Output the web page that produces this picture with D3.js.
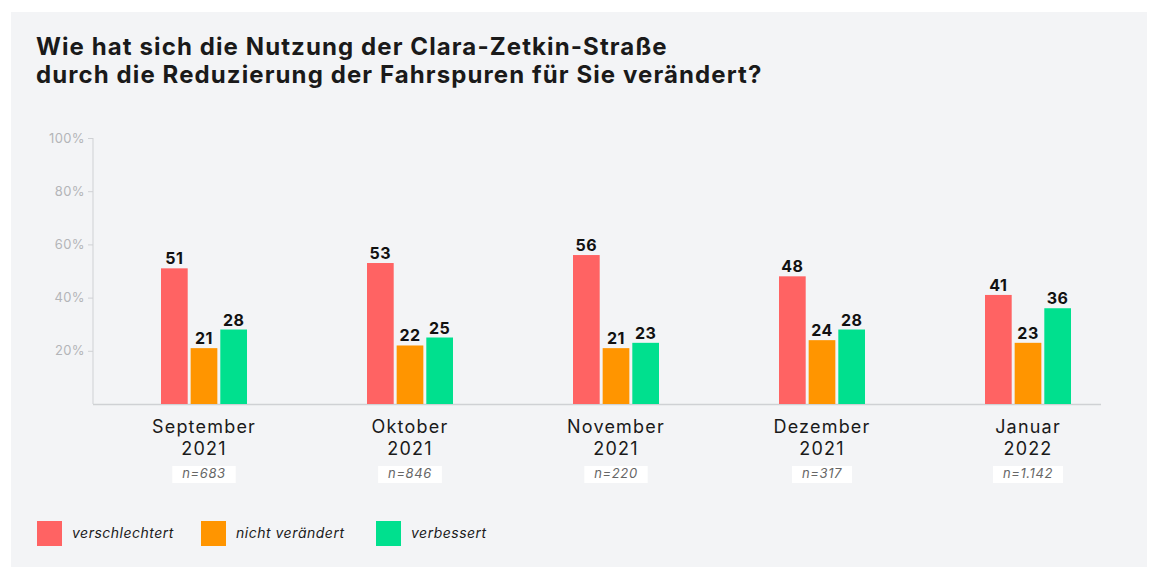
<!DOCTYPE html>
<html>
<head>
<meta charset="utf-8">
<script src="https://cdn.jsdelivr.net/npm/d3@7"></script>
<style>
  body { margin: 0; background: #fff; }
  svg { display: block; font-family: Inter, "Noto Sans", sans-serif; }
</style>
</head>
<body>
<svg id="chart"></svg>
<script>
const months = ["September", "Oktober", "November", "Dezember", "Januar"];
const years = ["2021", "2021", "2021", "2021", "2022"];
const samples = ["n=683", "n=846", "n=220", "n=317", "n=1.142"];
const seriesNames = ["verschlechtert", "nicht verändert", "verbessert"];
const seriesColors = ["#ff6363", "#ff9500", "#00e08e"];
const verschlechtert = [51, 53, 56, 48, 41];
const nichtVeraendert = [21, 22, 21, 24, 23];
const verbessert = [28, 25, 23, 28, 36];
const yTicks = [20, 40, 60, 80, 100];

const width = 1150;
const height = 567;
const svg = d3.select("#chart").attr("width", width).attr("height", height);

// panel
svg.append("rect")
  .attr("x", 11).attr("y", 12)
  .attr("width", 1136).attr("height", 555)
  .attr("fill", "#f3f4f6");

// title
const title = svg.append("text")
  .attr("x", 36).attr("y", 55)
  .attr("font-size", 24).attr("font-weight", 700)
  .attr("letter-spacing", 1.1)
  .attr("fill", "#1a1a1a");
title.append("tspan").attr("x", 36).text("Wie hat sich die Nutzung der Clara-Zetkin-Straße");
title.append("tspan").attr("x", 36).attr("dy", 28).text("durch die Reduzierung der Fahrspuren für Sie verändert?");

const yScale = d3.scaleLinear().domain([0, 100]).range([404, 138]);
const xScale = d3.scaleBand().domain(months).range([101, 1131]);
const xSub = d3.scaleBand().domain(seriesNames).range([-43, 43]).paddingInner(0.1);

// y axis
const yAxisG = svg.append("g")
  .attr("transform", "translate(93,0)")
  .call(d3.axisLeft(yScale).tickValues(yTicks).tickFormat((d) => d + "%").tickSize(5).tickPadding(3));
yAxisG.select(".domain").attr("stroke", "#cfd1d4").attr("d", "M0,138V404");
yAxisG.selectAll(".tick line").attr("stroke", "#cfd1d4");
yAxisG.selectAll(".tick text").attr("fill", "#b3b5b8").attr("font-size", 13)
  .attr("letter-spacing", 0.4).attr("font-family", "Inter, sans-serif");

// x baseline
svg.append("line")
  .attr("x1", 93).attr("x2", 1101)
  .attr("y1", yScale(0) + 0.5).attr("y2", yScale(0) + 0.5)
  .attr("stroke", "#cfd1d4").attr("stroke-width", 1.5);

// bars
const rows = months.map((m, i) => ({
  month: m,
  values: [verschlechtert[i], nichtVeraendert[i], verbessert[i]]
}));

const groups = svg.selectAll(".group").data(rows).join("g")
  .attr("class", "group")
  .attr("transform", (d) => `translate(${xScale(d.month) + xScale.bandwidth() / 2},0)`);

groups.selectAll("rect").data((d) => d.values.map((v, j) => ({ v, s: seriesNames[j], c: seriesColors[j] })))
  .join("rect")
  .attr("x", (d) => xSub(d.s))
  .attr("width", xSub.bandwidth())
  .attr("y", (d) => yScale(d.v))
  .attr("height", (d) => yScale(0) - yScale(d.v))
  .attr("fill", (d) => d.c);

groups.selectAll(".val").data((d) => d.values.map((v, j) => ({ v, s: seriesNames[j] })))
  .join("text")
  .attr("class", "val")
  .attr("x", (d) => xSub(d.s) + xSub.bandwidth() / 2)
  .attr("y", (d) => yScale(d.v) - 4)
  .attr("text-anchor", "middle")
  .attr("font-size", 16).attr("font-weight", 700)
  .attr("letter-spacing", 0.5)
  .attr("fill", "#111")
  .text((d) => d.v);

// x labels
groups.append("text")
  .attr("y", 433).attr("text-anchor", "middle")
  .attr("font-size", 18).attr("letter-spacing", 1.2).attr("fill", "#1a1a1a")
  .text((d) => d.month);
groups.append("text")
  .attr("y", 455).attr("text-anchor", "middle")
  .attr("font-size", 18).attr("letter-spacing", 1.2).attr("fill", "#1a1a1a")
  .text((d, i) => years[i]);

groups.each(function (d, i) {
  const g = d3.select(this);
  const t = g.append("text")
    .attr("y", 478).attr("text-anchor", "middle")
    .attr("font-size", 13).attr("font-style", "italic")
    .attr("letter-spacing", 0.6)
    .attr("fill", "#666")
    .text(samples[i]);
  const w = t.node().getComputedTextLength();
  g.insert("rect", "text:last-child")
    .attr("x", -w / 2 - 10).attr("y", 466)
    .attr("width", w + 20).attr("height", 17)
    .attr("fill", "#fff");
});

// legend
const legendX = [37, 201, 376];
const legend = svg.selectAll(".legend").data(seriesNames).join("g")
  .attr("class", "legend")
  .attr("transform", (d, i) => `translate(${legendX[i]},521)`);
legend.append("rect")
  .attr("width", 25).attr("height", 25)
  .attr("fill", (d, i) => seriesColors[i]);
legend.append("text")
  .attr("x", 35).attr("y", 17)
  .attr("font-size", 14).attr("font-style", "italic")
  .attr("letter-spacing", 0.5)
  .attr("fill", "#1a1a1a")
  .text((d) => d);
</script>
</body>
</html>
